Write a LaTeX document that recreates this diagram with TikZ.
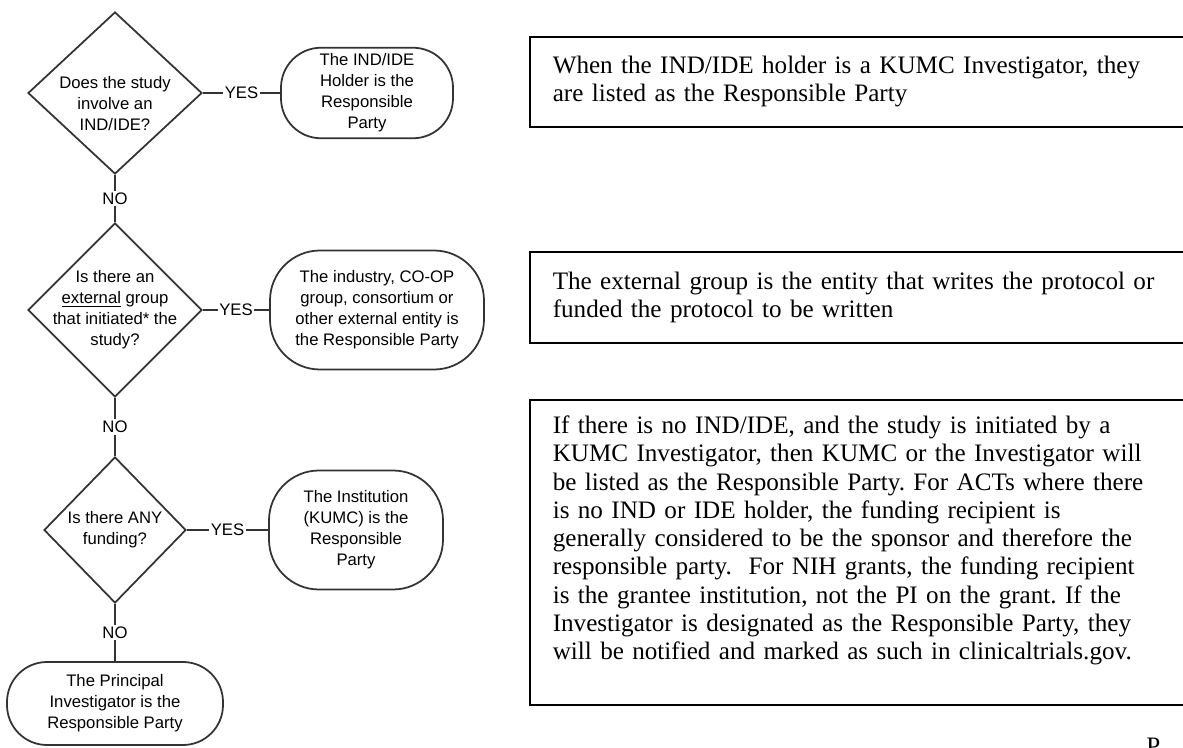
\documentclass[tikz,border=0pt]{standalone}
\usepackage{fontspec}
\setmainfont{Liberation Serif}
\setsansfont{Liberation Sans}
\usepackage{tikz}
\usetikzlibrary{positioning,shapes}
\frenchspacing
\tikzstyle{question} = [diamond, draw=black!80, line width=1pt, inner sep=-6pt, align=center, font=\sffamily\fontsize{9.5}{12}\selectfont]
\tikzstyle{answer} = [rectangle, rounded corners=0.8cm, draw=black!80, line width=1pt, align=center, font=\sffamily\fontsize{9.5}{12}\selectfont]
\tikzstyle{choice} = [fill=white, inner sep=1pt, font=\sffamily\fontsize{9.5}{12}\selectfont]
\tikzstyle{notebox} = [rectangle, draw=black, line width=0.9pt, anchor=north west, text width=12.4cm, inner xsep=0.46cm, align=left, font=\fontsize{14.3}{16.1}\selectfont]
\tikzstyle{connect} = [draw=black!80, line width=1pt]

\begin{document}
\begin{tikzpicture}
	\useasboundingbox (0,0) rectangle (23.66,14.94);
	% flowchart
	\node (ind) [question, minimum width=3.48cm, minimum height=3.24cm] at (2.30,13.08) {\rule{0pt}{0.65cm}Does the study\\involve an\\IND/IDE?};
	\node (ext) [question, minimum width=3.48cm, minimum height=3.48cm, below of=ind, node distance=4.34cm] {Is there an\\\underline{external} group\\that initiated* the\\study?};
	\node (fund) [question, minimum width=2.84cm, minimum height=2.92cm, below of=ext, node distance=4.40cm] {Is there ANY\\funding?};
	\node (pi) [answer, minimum width=4.32cm, minimum height=1.66cm, below of=fund, node distance=3.47cm] {The Principal\\Investigator is the\\Responsible Party};

	\node (holder) [answer, minimum width=3.44cm, minimum height=1.80cm, right of=ind, node distance=5.04cm] {The IND/IDE\\Holder is the\\Responsible\\Party};
	\node (group) [answer, rounded corners=1cm, minimum width=4.28cm, minimum height=2.38cm, right of=ext, node distance=5.24cm] {The industry, CO-OP\\group, consortium or\\other external entity is\\the Responsible Party};
	\node (inst) [answer, rounded corners=1cm, minimum width=3.48cm, minimum height=2.38cm, right of=fund, node distance=4.82cm] {The Institution\\(KUMC) is the\\Responsible\\Party};

	\draw [connect] (ind) -- node [choice] {YES} (holder);
	\draw [connect] (ext) -- node [choice] {YES} (group);
	\draw [connect] (fund) -- node [choice] {YES} (inst);
	\draw [connect] (ind) -- node [choice] {NO} (ext);
	\draw [connect] (ext) -- node [choice] {NO} (fund);
	\draw [connect] (fund) -- node [choice] {NO} (pi);

	% notes
	\node (note1) [notebox, minimum height=1.80cm] at (10.58,14.22) {When the IND/IDE holder is a KUMC Investigator, they\\are listed as the Responsible Party};
	\node (note2) [notebox, minimum height=1.82cm] at (10.58,9.92) {The external group is the entity that writes the protocol or\\funded the protocol to be written};
	\node (note3) [notebox, minimum height=6.10cm] at (10.58,6.96) {If there is no IND/IDE, and the study is initiated by a\\KUMC Investigator, then KUMC or the Investigator will\\be listed as the Responsible Party. For ACTs where there\\is no IND or IDE holder, the funding recipient is\\generally considered to be the sponsor and therefore the\\responsible party.\ \ For NIH grants, the funding recipient\\is the grantee institution, not the PI on the grant. If the\\Investigator is designated as the Responsible Party, they\\will be notified and marked as such in clinicaltrials.gov.\rule[-0.58cm]{0pt}{0pt}};
	\node (pgnum) [anchor=base west, inner sep=0pt, font=\fontsize{14.3}{16.1}\selectfont] at (22.92,-0.14) {P};
\end{tikzpicture}
\end{document}
